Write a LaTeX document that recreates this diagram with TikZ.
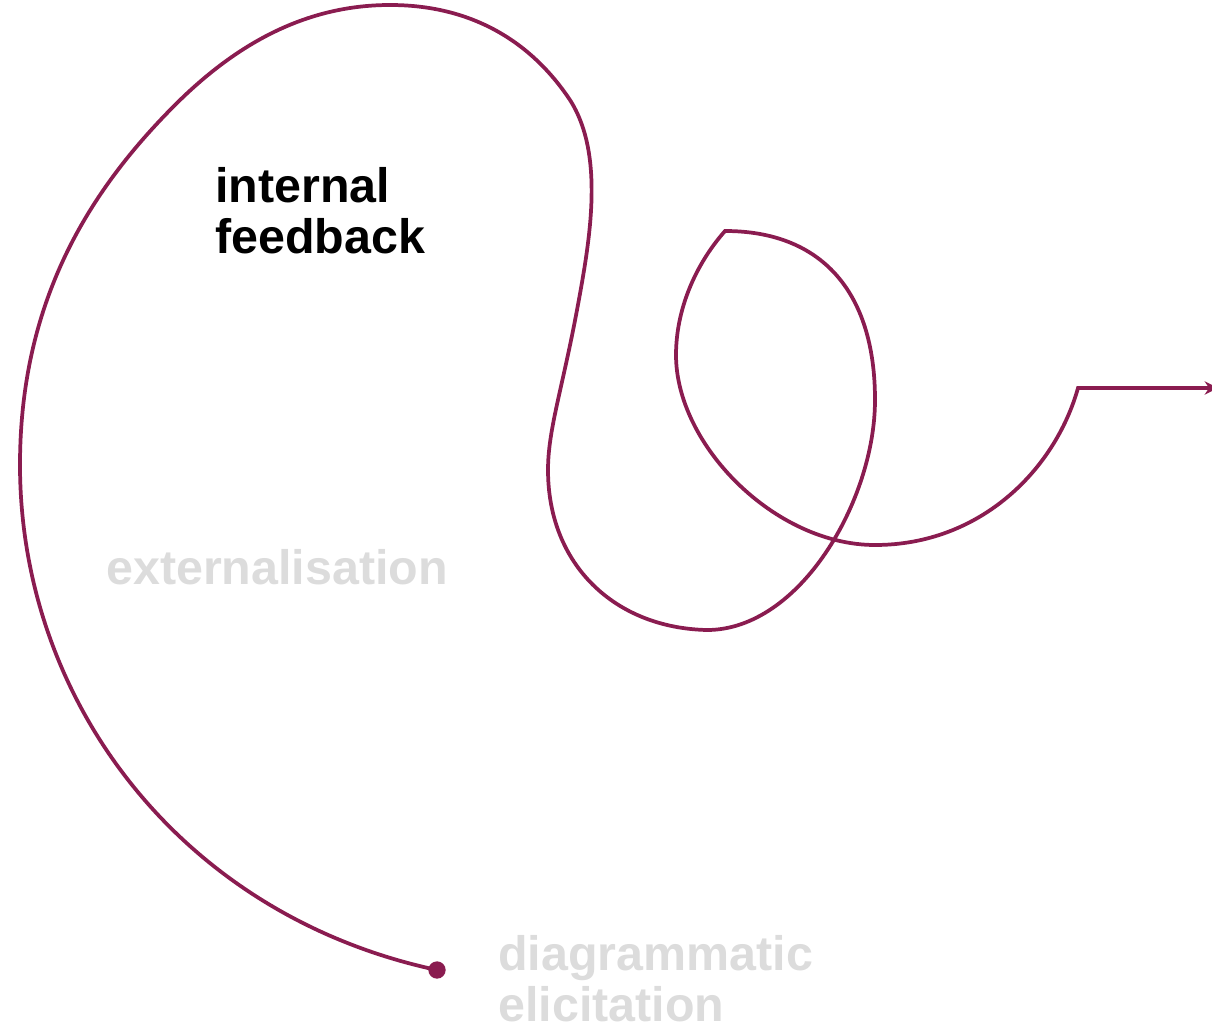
\documentclass[tikz,border=0pt]{standalone}
\usepackage{fontspec}
\setmainfont{Liberation Sans}
\usetikzlibrary{arrows.meta}
\definecolor{wine}{HTML}{8A1C50}
\definecolor{faint}{HTML}{DCDCDC}
\tikzset{
  lbl/.style={anchor=north west, inner sep=0pt, align=left, font=\bfseries\fontsize{36.3}{38.5}\selectfont},
  pathline/.style={draw=wine, line width=2.8pt, line join=miter},
  dot/.style={circle, fill=wine, inner sep=0pt, minimum size=13pt}
}
\begin{document}
\begin{tikzpicture}[x=0.75pt,y=-0.75pt]
\useasboundingbox (0,0) rectangle (1212,1027);
\node[dot] (start) at (437,970) {};
\coordinate (finish) at (1218,388);
\draw[pathline, -{Stealth[length=10pt,width=10pt]}] (start.center)
  .. controls (180,915) and (20,700) .. (20,465)
  .. controls (20,300) and (90,190) .. (175,105)
  .. controls (240,40) and (310,5) .. (390,5)
  .. controls (470,5) and (530,40) .. (570,100)
  .. controls (605,155) and (590,240) .. (577,310)
  .. controls (562,390) and (548,430) .. (548,470)
  .. controls (548,565) and (615,628) .. (707,630)
  .. controls (800,630) and (875,500) .. (875,400)
  .. controls (875,290) and (820,231) .. (725,231)
  .. controls (695,265) and (676,310) .. (676,355)
  .. controls (676,445) and (775,545) .. (875,545)
  .. controls (980,545) and (1055,470) .. (1078,388)
  -- (finish);
\node[lbl, text=black] (internal) at (215,167) {internal\\feedback};
\node[lbl, text=faint] (ext) at (106,549) {externalisation};
\node[lbl, text=faint] (diag) at (498,935) {diagrammatic\\elicitation};
\end{tikzpicture}
\end{document}
